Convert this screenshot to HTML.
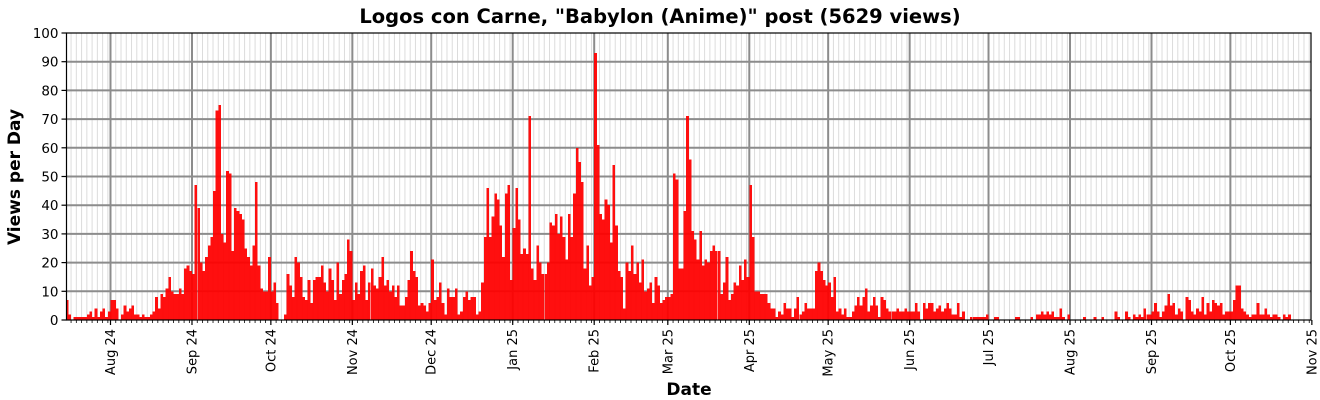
<!DOCTYPE html>
<html><head><meta charset="utf-8"><style>
html,body{margin:0;padding:0;background:#fff;}
svg{display:block;font-family:"DejaVu Sans","Liberation Sans",sans-serif;}
</style></head><body>
<svg id="c" width="1320" height="400" xmlns="http://www.w3.org/2000/svg"></svg>
<script>
const S=document.getElementById('c');
const X0=66.5,X1=1311,Y0=320,YT=33,PX=2.6288;
function dx(y,m,d){const t=Date.UTC(y,m,d),b=Date.UTC(2024,7,1);return 110.5+(t-b)/864e5*PX;}
function vy(v){return Y0-v*(Y0-YT)/100;}
let h='';
for(let y=2024,m=6;y<2026;){
  const dim=new Date(Date.UTC(y,m+1,0)).getUTCDate();
  for(let d=1;d<=dim;d+=2){const x=dx(y,m,d);if(x>X0&&x<X1){h+=`<line x1="${x}" y1="${YT}" x2="${x}" y2="${Y0}" stroke="#dcdcdc" stroke-width="1"/><line x1="${x}" y1="${Y0}" x2="${x}" y2="${Y0+3}" stroke="#000" stroke-width="0.8"/>`;}}
  m++;if(m>11){m=0;y++;} if(y==2025&&m>10)break;
}
for(let v=10;v<100;v+=10){h+=`<line x1="${X0}" y1="${vy(v)}" x2="${X1}" y2="${vy(v)}" stroke="#8c8c8c" stroke-width="2"/>`;}
const months=[[2024,7,'Aug 24'],[2024,8,'Sep 24'],[2024,9,'Oct 24'],[2024,10,'Nov 24'],[2024,11,'Dec 24'],[2025,0,'Jan 25'],[2025,1,'Feb 25'],[2025,2,'Mar 25'],[2025,3,'Apr 25'],[2025,4,'May 25'],[2025,5,'Jun 25'],[2025,6,'Jul 25'],[2025,7,'Aug 25'],[2025,8,'Sep 25'],[2025,9,'Oct 25'],[2025,10,'Nov 25']];
for(const [y,m,l] of months){const x=dx(y,m,1);
  if(x<X1-1)h+=`<line x1="${x}" y1="${YT}" x2="${x}" y2="${Y0}" stroke="#8c8c8c" stroke-width="2"/>`;
  h+=`<line x1="${x}" y1="${Y0}" x2="${x}" y2="${Y0+5}" stroke="#000" stroke-width="1.2"/>`;
  h+=`<text transform="translate(${x+4.5},${329}) rotate(-90)" text-anchor="end" font-size="13">${l}</text>`;}
const data=[
[2024,6,15,[7,2,0,1,1,1,1,1,2,3,1,4,1,3,4,1,3]],
[2024,7,1,[7,7,4,0,2,5,3,4,5,2,2,1,2,1,1,2,3,8,4,9,8,11,15,10,9,9,11,9,18,19,17]],
[2024,8,1,[16,47,39,20,17,22,26,29,45,73,75,30,27,52,51,24,39,38,37,35,25,22,19,26,48,19,11,10,10,22]],
[2024,9,1,[10,13,6,0,0,2,16,12,8,22,20,15,8,7,14,6,14,15,15,19,13,10,18,14,7,20,9,14,16,28,24]],
[2024,10,1,[7,13,9,17,19,7,13,18,12,11,15,22,12,14,10,12,8,12,5,5,8,14,24,17,15,5,6,5,3,6]],
[2024,11,1,[21,7,8,13,6,2,11,8,8,11,2,3,8,10,7,8,8,2,3,13,29,46,29,36,44,42,33,22,44,47,14]],
[2025,0,1,[32,46,35,23,25,23,71,18,14,26,20,16,16,20,34,33,37,30,36,29,21,37,29,44,60,55,48,18,26,12,15]],
[2025,1,1,[93,61,37,35,42,40,27,54,33,17,15,4,20,17,26,16,20,13,21,10,11,13,6,15,12,6,7,8]],
[2025,2,1,[8,9,51,49,18,18,38,71,56,31,28,21,31,19,21,20,24,26,24,24,9,13,22,7,9,13,12,19,14,21,15]],
[2025,3,1,[47,29,10,10,9,9,9,6,4,4,1,3,2,6,4,4,1,4,8,2,3,6,4,4,4,17,20,17,14,12]],
[2025,4,1,[13,8,15,3,4,2,4,1,1,3,5,8,5,8,11,3,5,8,5,1,8,7,4,3,3,3,4,3,3,4,3]],
[2025,5,1,[3,3,6,3,0,6,4,6,6,3,4,5,3,4,6,4,2,2,6,1,3,0,0,1,1,1,1,1,1,2]],
[2025,6,1,[0,0,1,1,0,0,0,0,0,0,1,1,0,0,0,0,1,0,2,2,3,2,3,2,3,1,1,4,1,0,2]],
[2025,7,1,[0,0,0,0,0,1,0,0,0,1,0,0,1,0,0,0,0,3,1,0,0,3,1,0,2,1,2,1,4,2,2]],
[2025,8,1,[3,6,3,1,3,5,9,5,6,2,4,3,0,8,7,3,2,4,3,8,2,6,3,7,6,5,6,2,3,3]],
[2025,9,1,[3,7,12,12,4,3,2,1,2,2,6,2,2,4,2,1,2,2,1,0,2,1,2]]];
let b='';
for(const [y,m,d,arr] of data){arr.forEach((v,i)=>{if(v<=0)return;const x=dx(y,m,d+i);const t=vy(v);
 b+=`<rect x="${x.toFixed(2)}" y="${t.toFixed(2)}" width="${PX.toFixed(3)}" height="${(Y0-t).toFixed(2)}"/>`;});}
h+=`<g fill="#ff0000" fill-opacity="0.94" shape-rendering="crispEdges">${b}</g>`;
for(let v=0;v<=100;v+=10){h+=`<line x1="${X0-5}" y1="${vy(v)}" x2="${X0}" y2="${vy(v)}" stroke="#000" stroke-width="1.2"/><text x="${X0-8}" y="${vy(v)+5}" text-anchor="end" font-size="13.5">${v}</text>`;}
h+=`<rect x="${X0}" y="${YT}" width="${X1-X0}" height="${Y0-YT}" fill="none" stroke="#000" stroke-width="1.2"/>`;
h+=`<text x="660" y="23" text-anchor="middle" font-size="19.5" font-weight="bold">Logos con Carne, "Babylon (Anime)" post (5629 views)</text>`;
h+=`<text transform="translate(20,177) rotate(-90)" text-anchor="middle" font-size="17" font-weight="bold">Views per Day</text>`;
h+=`<text x="689" y="395" text-anchor="middle" font-size="17" font-weight="bold">Date</text>`;
S.innerHTML=h;
</script>
</body></html>
